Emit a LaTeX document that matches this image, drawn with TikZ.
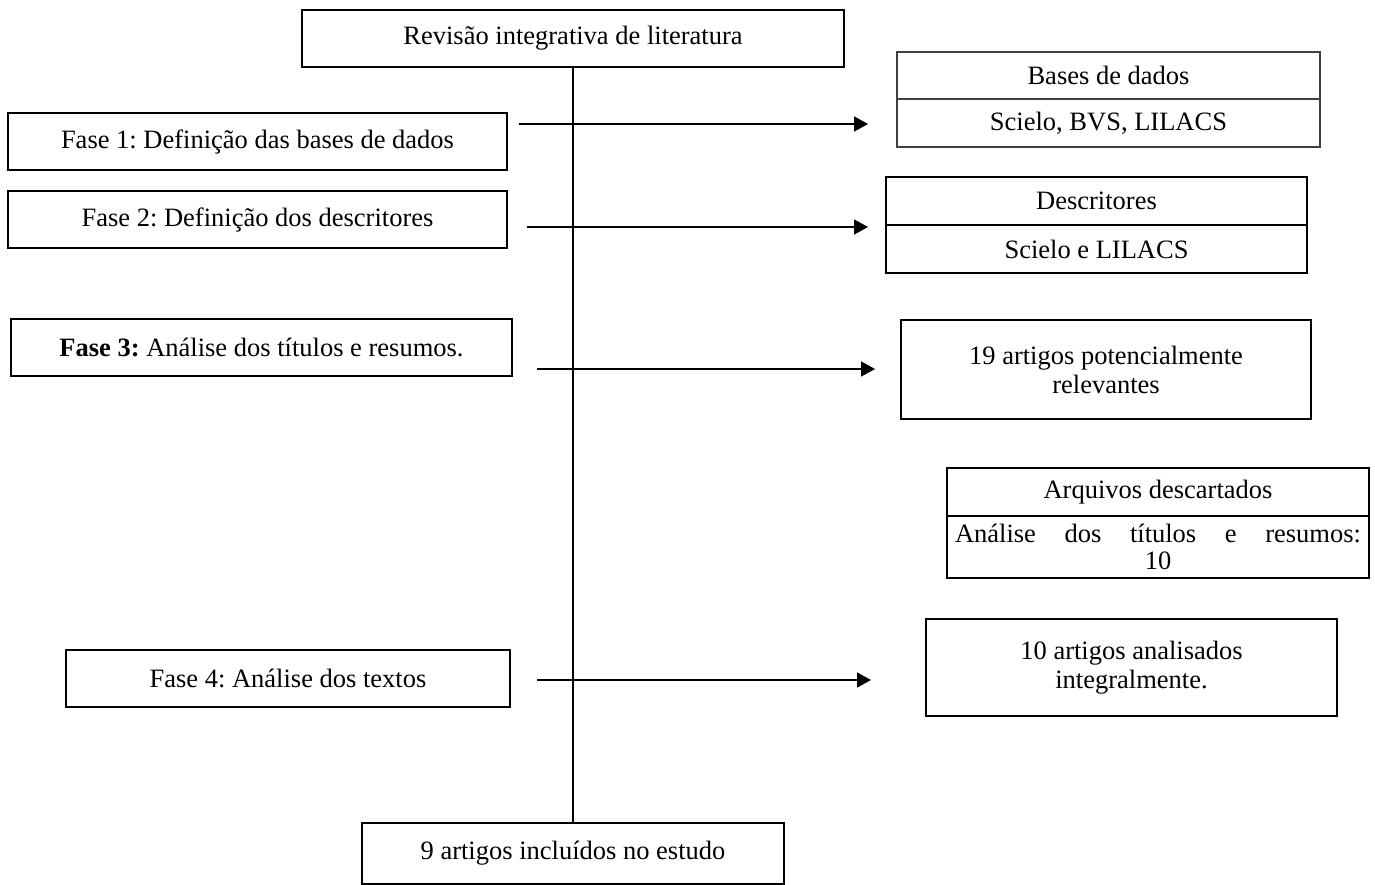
\documentclass[tikz,border=0pt]{standalone}
\usepackage{fontspec}
\setmainfont{Liberation Serif}
\usetikzlibrary{arrows.meta,positioning}
\tikzstyle{box} = [rectangle, draw=black, line width=1.6pt, outer sep=0pt, align=center, font=\fontsize{26.5}{29}\selectfont]
\tikzstyle{cell} = [box, line width=1.4pt, draw=black!75]
\tikzstyle{arrow} = [-{Triangle[length=14pt,width=15pt]}, line width=1.8pt]
\tikzstyle{trunk} = [line width=1.8pt]
\frenchspacing

\begin{document}
\begin{tikzpicture}[x=1pt,y=-1pt]
\useasboundingbox (0,0) rectangle (1375,885);

% main column
\node[box, minimum width=542, minimum height=57] (review) at (573,38.5) {Revisão integrativa de literatura};
\node[box, minimum width=422, minimum height=61] (final) at (573,853.5) {9 artigos incluídos no estudo};
\draw[trunk] (review.south) -- (final.north);

% phases
\node[box, minimum width=499, minimum height=57] (fase1) at (257.5,141.5) {Fase 1: Definição das bases de dados};
\node[box, minimum width=499, minimum height=57] (fase2) at (257.5,219.5) {Fase 2: Definição dos descritores};
\node[box, minimum width=501, minimum height=57] (fase3) at (261.5,347.5) {\textbf{Fase 3:} Análise dos títulos e resumos.};
\node[box, minimum width=444, minimum height=57] (fase4) at (288,678.5) {Fase 4: Análise dos textos};

% results
\node[cell, minimum width=423, minimum height=47] (basesH) at (1108.5,75.5) {Bases de dados};
\node[cell, minimum width=423, minimum height=48, below=0pt of basesH] (basesB) {Scielo, BVS, LILACS};
\node[box, minimum width=421, minimum height=48] (descH) at (1096.5,201) {Descritores};
\node[box, minimum width=421, minimum height=48, below=0pt of descH] (descB) {Scielo e LILACS};
\node[box, minimum width=410, minimum height=99] (relev) at (1106,369.5) {19 artigos potencialmente\\relevantes};
\node[box, minimum width=422, minimum height=48] (descH2) at (1158,492) {Arquivos descartados};
\node[box, text width=406, inner xsep=8pt, minimum height=62, below=0pt of descH2, font=\fontsize{26.5}{27}\selectfont] (descB2) {Análise\hfill dos\hfill títulos\hfill e\hfill resumos:\\10};
\node[box, minimum width=411, minimum height=97] (integ) at (1131.5,667.5) {10 artigos analisados\\integralmente.};

% arrows
\coordinate (s1) at (519,124);
\coordinate (e1) at (868,124);
\coordinate (s2) at (527,227);
\coordinate (e2) at (868,227);
\coordinate (s3) at (537,369);
\coordinate (e3) at (875,369);
\coordinate (s4) at (537,680);
\coordinate (e4) at (871,680);
\draw[arrow] (s1) -- (e1);
\draw[arrow] (s2) -- (e2);
\draw[arrow] (s3) -- (e3);
\draw[arrow] (s4) -- (e4);
\end{tikzpicture}
\end{document}
